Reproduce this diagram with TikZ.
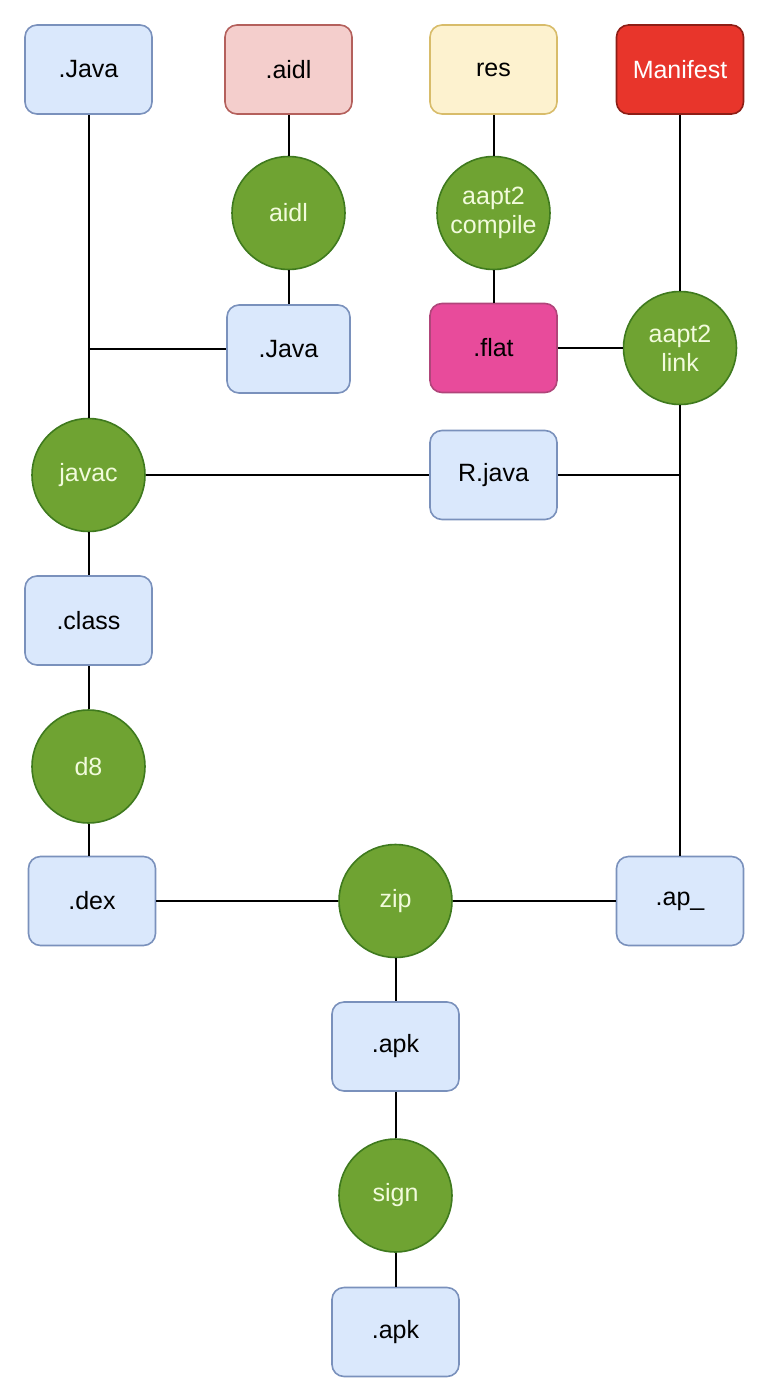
\documentclass[tikz,border=0pt]{standalone}
\usepackage{fontspec}
\setmainfont{Liberation Sans}
\definecolor{bfill}{HTML}{DAE8FC}
\definecolor{bdraw}{HTML}{7A91BC}
\definecolor{rfill}{HTML}{F4CECC}
\definecolor{rdraw}{HTML}{B4605C}
\definecolor{yfill}{HTML}{FDF2CF}
\definecolor{ydraw}{HTML}{D8BC6A}
\definecolor{mfill}{HTML}{E8352B}
\definecolor{mdraw}{HTML}{8E1E16}
\definecolor{pfill}{HTML}{E84B9B}
\definecolor{pdraw}{HTML}{B0457A}
\definecolor{gfill}{HTML}{6FA332}
\definecolor{gdraw}{HTML}{3F7A1E}
\definecolor{gtext}{HTML}{F2FBDC}
\begin{document}
\begin{tikzpicture}[x=1pt,y=-1pt,
  every node/.style={font=\fontsize{25}{29}\selectfont, align=center, inner sep=0pt},
  filebox/.style={draw=bdraw, fill=bfill, line width=1.6pt, rounded corners=12pt, minimum width=127pt, minimum height=89pt},
  toolcirc/.style={circle, draw=gdraw, fill=gfill, line width=1.6pt, minimum size=113pt, text=gtext},
  link/.style={line width=2pt, black}]
\useasboundingbox (0,0) rectangle (776,1394);
% boxes
\node[filebox] (java1) at (88.5,69.5) {.Java};
\node[filebox, fill=rfill, draw=rdraw] (aidlf) at (288.5,69.5) {.aidl};
\node[filebox, fill=yfill, draw=ydraw] (res) at (493.5,69.5) {res};
\node[filebox, fill=mfill, draw=mdraw, text=white] (man) at (680,69.5) {Manifest};
\node[toolcirc] (aidl) at (288.5,213) {aidl};
\node[toolcirc] (comp) at (493.5,213) {aapt2\\compile};
\node[filebox, minimum width=123pt, minimum height=88pt] (java2) at (288.5,349) {.Java};
\node[filebox, fill=pfill, draw=pdraw] (flat) at (493.5,348) {.flat};
\node[toolcirc] (link) at (680,348) {aapt2\\link};
\node[toolcirc] (javac) at (88.5,475) {javac};
\node[filebox] (rjava) at (493.5,475) {R.java};
\node[filebox] (class) at (88.5,620.5) {.class};
\node[toolcirc] (d8) at (88.5,766.5) {d8};
\node[filebox] (dex) at (92,901) {.dex};
\node[toolcirc] (zip) at (395.5,901) {zip};
\node[filebox] (ap) at (680,901) {.ap\_};
\node[filebox] (apk1) at (395.5,1046.5) {.apk};
\node[toolcirc] (sign) at (395.5,1195.5) {sign};
\node[filebox] (apk2) at (395.5,1332) {.apk};
% junctions
\coordinate (jj) at (java1.south |- java2.west);
\coordinate (jr) at (link.south |- rjava.east);
% connectors
\draw[link] (java1.south) -- (javac.north);
\draw[link] (jj) -- (java2.west);
\draw[link] (aidlf.south) -- (aidl.north);
\draw[link] (aidl.south) -- (java2.north);
\draw[link] (res.south) -- (comp.north);
\draw[link] (comp.south) -- (flat.north);
\draw[link] (man.south) -- (link.north);
\draw[link] (flat.east) -- (link.west);
\draw[link] (link.south) -- (link.south |- ap.north);
\draw[link] (javac.east) -- (rjava.west);
\draw[link] (rjava.east) -- (jr);
\draw[link] (javac.south) -- (class.north);
\draw[link] (class.south) -- (d8.north);
\draw[link] (d8.south) -- (d8.south |- dex.north);
\draw[link] (dex.east) -- (zip.west);
\draw[link] (zip.east) -- (ap.west);
\draw[link] (zip.south) -- (apk1.north);
\draw[link] (apk1.south) -- (sign.north);
\draw[link] (sign.south) -- (apk2.north);
\end{tikzpicture}
\end{document}
